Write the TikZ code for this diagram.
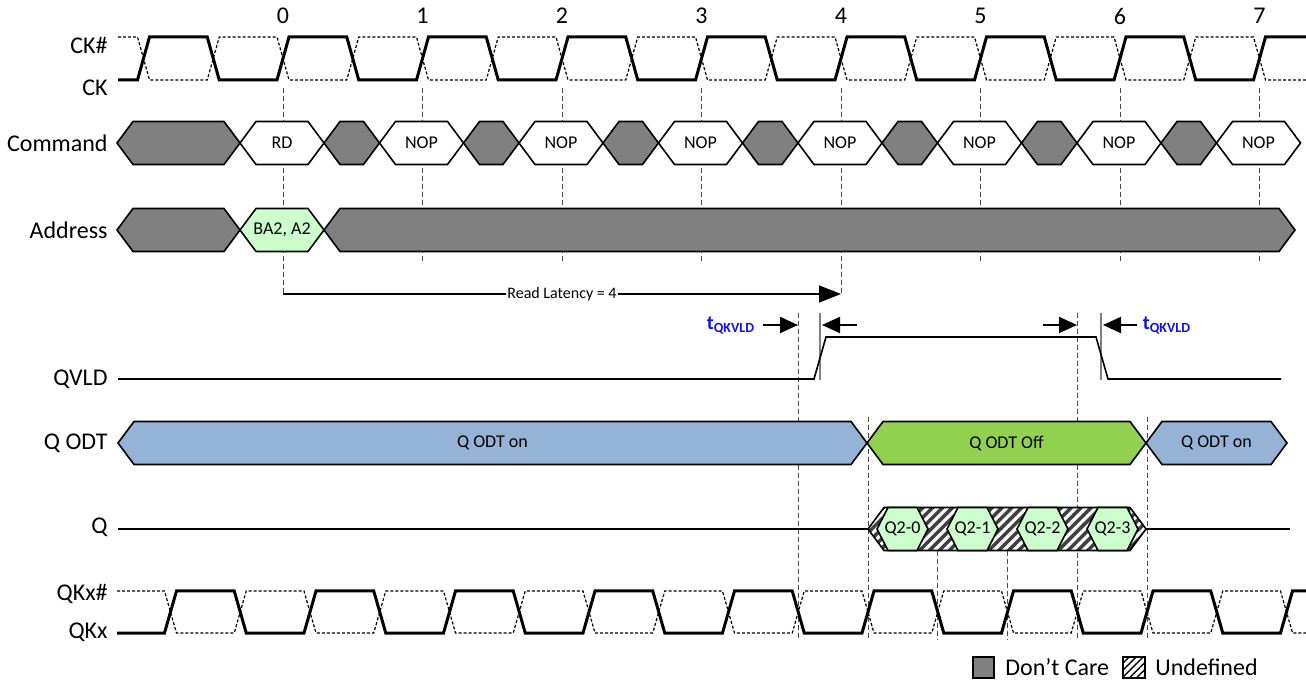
\documentclass[tikz,border=0pt]{standalone}
\usepackage{fontspec}
\setmainfont{Carlito}
\usetikzlibrary{arrows.meta,patterns.meta}

\definecolor{dc}{HTML}{808080}
\definecolor{datagreen}{HTML}{CCFFCC}
\definecolor{odtblue}{HTML}{95B3D7}
\definecolor{odtgreen}{HTML}{92D050}
\definecolor{tblue}{HTML}{1010F0}

% [slant]{name}{x1}{x2}{y}{style}{text}
\newcommand{\busbox}[7][16]{%
  \draw[bus,#6] (#3,#5) -- ({#3+#1},{#5-21.5}) -- ({#4-#1},{#5-21.5})
    -- (#4,#5) -- ({#4-#1},{#5+21.5}) -- ({#3+#1},{#5+21.5}) -- cycle;
  \node[bustext] (#2) at ({(#3+#4)/2},#5) {#7};}

\begin{document}
\begin{tikzpicture}[
  x=0.5pt, y=-0.5pt,
  bus/.style={draw, line width=0.8pt, line join=miter},
  bustext/.style={font=\fontsize{9}{11}\selectfont, inner sep=0pt},
  clk/.style={line width=1.5pt, line join=miter},
  clkn/.style={line width=0.6pt, dash pattern=on 1.5pt off 1pt},
  sig/.style={line width=0.8pt},
  edgeline/.style={black!70, line width=0.4pt, dash pattern=on 2.5pt off 1.5pt},
  lbl/.style={anchor=east, font=\fontsize{12}{14}\selectfont, inner sep=0pt},
  hatch/.style={preaction={fill=black!75},
    pattern={Lines[angle=45,distance=3.5pt,line width=1.6pt]}, pattern color=white},
  tarrow/.style={-{Triangle[length=9pt,width=8pt]}, line width=1pt},
  tlbl/.style={text=tblue, font=\bfseries\fontsize{10}{12}\selectfont},
]
\useasboundingbox (0,0) rectangle (1306,683);

% signal names
\node[lbl] (ckn) at (108,45) {CK\#};
\node[lbl] (ck) at (108,88) {CK};
\node[lbl] (cmd) at (108,143) {Command};
\node[lbl] (addr) at (108,230) {Address};
\node[lbl] (qvld) at (108,379) {QVLD};
\node[lbl] (qodt) at (108,443) {Q ODT};
\node[lbl] (q) at (108,527) {Q};
\node[lbl] (qkn) at (108,594) {QKx\#};
\node[lbl] (qk) at (108,632) {QKx};

% clock edge numbers and guides
\foreach \n in {0,...,7}
  \node[font=\fontsize{12}{14}\selectfont] (e\n) at ({283+139.5*\n},16) {\n};
\foreach \n in {1,2,3,5,6,7}
  \draw[edgeline] ({283+139.5*\n},88) -- ({283+139.5*\n},262);
\coordinate (rl0) at (283,294);
\coordinate (rl4) at (841,294);
\draw[edgeline] (283,88) -- (rl0);
\draw[edgeline] (841,88) -- (rl4);
\foreach \k/\ys in {9/313,10/417,11/551,12/551,13/313,14/417}
  \draw[edgeline] ({170.5+69.75*\k},\ys) -- ({170.5+69.75*\k},640);

% CK / CK#
\draw[clkn] (118,37) foreach \n in {-1,...,6} {
  -- ({283+139.5*\n-6},37) -- ({283+139.5*\n+6},80)
  -- ({283+139.5*\n+63.75},80) -- ({283+139.5*\n+75.75},37) }
  -- (1253.5,37) -- (1265.5,80) -- (1306,80);
\draw[clk] (118,80) foreach \n in {-1,...,6} {
  -- ({283+139.5*\n-6},80) -- ({283+139.5*\n+6},37)
  -- ({283+139.5*\n+63.75},37) -- ({283+139.5*\n+75.75},80) }
  -- (1253.5,80) -- (1265.5,37) -- (1306,37);

% command bus
\busbox{cmdx}{117}{240}{143}{fill=dc}{}
\foreach \n/\cmdtext in {0/RD,1/NOP,2/NOP,3/NOP,4/NOP,5/NOP,6/NOP,7/NOP}{
  \pgfmathsetmacro\xa{283+139.5*\n-43}
  \pgfmathsetmacro\xb{\xa+84}
  \busbox{cmd\n}{\xa}{\xb}{143}{fill=white}{\cmdtext}
}
\foreach \n in {0,...,6}{
  \pgfmathsetmacro\xa{283+139.5*\n+41}
  \pgfmathsetmacro\xb{\xa+55.5}
  \busbox{dc\n}{\xa}{\xb}{143}{fill=dc}{}
}

% address bus
\busbox{adx}{117}{240}{230}{fill=dc}{}
\busbox{ba}{240}{324}{230}{fill=datagreen}{BA2, A2}
\busbox{adr}{324}{1295}{230}{fill=dc}{}

% read latency
\draw[line width=0.7pt, -{Triangle[length=11pt,width=8.5pt]}] (rl0) --
  node[fill=white, inner sep=0.5pt, font=\fontsize{8}{10}\selectfont] {Read Latency = 4} (rl4);

% tQKVLD
\draw[gray, line width=0.6pt] (820,313) -- (820,380);
\draw[gray, line width=0.6pt] (1101,313) -- (1101,380);
\coordinate (ta) at (763,325); \coordinate (tb) at (798,325);
\coordinate (tc) at (857,325); \coordinate (td) at (822,325);
\coordinate (te) at (1043,325); \coordinate (tf) at (1077,325);
\coordinate (tg) at (1137,325); \coordinate (th) at (1103,325);
\draw[tarrow] (ta) -- (tb);
\draw[tarrow] (tc) -- (td);
\draw[tarrow] (te) -- (tf);
\draw[tarrow] (tg) -- (th);
\node[tlbl] (tq1) at (731,326) {t\textsubscript{QKVLD}};
\node[tlbl] (tq2) at (1167,326) {t\textsubscript{QKVLD}};

% QVLD
\draw[sig] (118,379) -- (814,379) -- (826,337) -- (1096,337) -- (1108,379) -- (1281,379);

% Q ODT
\busbox{odton}{118}{867}{443}{fill=odtblue}{Q ODT on}
\busbox{odtoff}{867}{1146}{443}{fill=odtgreen}{Q ODT Off}
\busbox{odton2}{1146}{1287}{443}{fill=odtblue}{Q ODT on}

% Q
\draw[sig] (118,529) -- (868,529);
\busbox{qund}{868}{1146}{529}{hatch}{}
\foreach \k in {0,...,3}
  \busbox[11]{qd\k}{877+70*\k}{928+70*\k}{529}{fill=datagreen}{Q2-\k}
\draw[sig] (1146,529) -- (1290,529);

% QKx / QKx#
\draw[clkn] (117,591) foreach \n in {0,...,7} {
  -- ({170.5+139.5*\n-6},591) -- ({170.5+139.5*\n+6},633)
  -- ({170.5+139.5*\n+63.75},633) -- ({170.5+139.5*\n+75.75},591) }
  -- (1280.5,591) -- (1292.5,633) -- (1306,633);
\draw[clk] (117,633) foreach \n in {0,...,7} {
  -- ({170.5+139.5*\n-6},633) -- ({170.5+139.5*\n+6},591)
  -- ({170.5+139.5*\n+63.75},591) -- ({170.5+139.5*\n+75.75},633) }
  -- (1280.5,633) -- (1292.5,591) -- (1306,591);

% legend
\draw[bus, fill=dc] (973,657) rectangle (994,678);
\node[lbl, anchor=west] (ldc) at (1005,667) {Don’t Care};
\draw[bus, pattern={Lines[angle=45,distance=2.5pt,line width=0.7pt]}] (1123,657) rectangle (1145,678);
\node[lbl, anchor=west] (lund) at (1155,667) {Undefined};
\end{tikzpicture}
\end{document}
